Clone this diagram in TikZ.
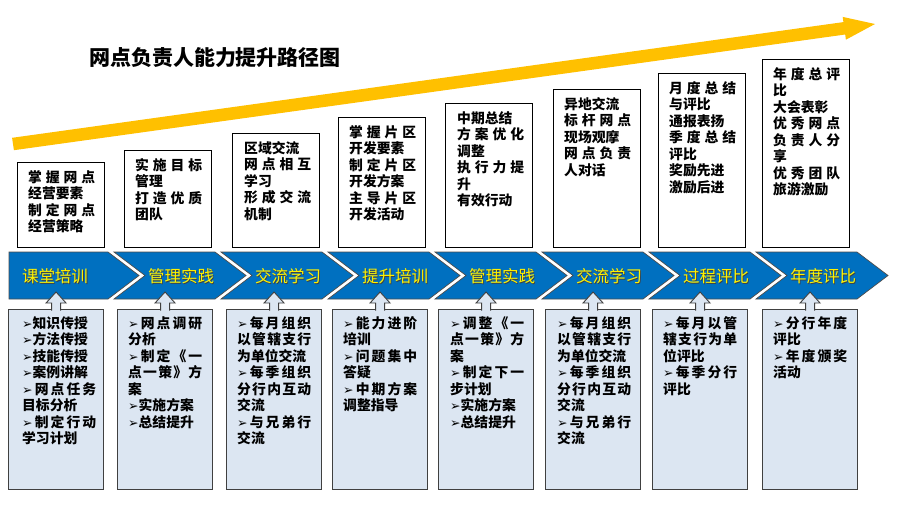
\documentclass[tikz,border=0pt]{standalone}
\usepackage{fontspec}
\setmainfont{Noto Sans CJK SC}
\newfontfamily\dvf{DejaVu Sans}
\usetikzlibrary{calc}
\definecolor{arrowyellow}{HTML}{FFC000}
\definecolor{chevblue}{HTML}{0070C0}
\definecolor{lowfill}{HTML}{DCE6F2}
\newlength\jw
\def\Jsplit#1#2{#1\ifx\relax#2\else\hfil\expandafter\Jsplit\expandafter#2\fi}
\newcommand\J[1]{\makebox[\jw][s]{\Jsplit#1\relax}}
\newcommand\B{{\dvf\bfseries\fontsize{12.5}{12.5}\selectfont ➢}}
\newcommand\boxtext[4]{%
  \foreach \t [count=\k from 0] in {#4} {\node[txt] (#1-\k) at (#2,{#3+16.5*\k}) {\t};}}
\begin{document}
\begin{tikzpicture}[x=1pt,y=-1pt,
  ubox/.style={draw=black, line width=1.1pt, fill=white, anchor=north west, minimum width=87pt, inner sep=0pt},
  lbox/.style={draw=black!75, line width=1.1pt, fill=lowfill, anchor=north west, minimum width=95pt, minimum height=180pt, inner sep=0pt},
  chev/.style={fill=chevblue, draw=black!70, line width=0.7pt},
  chevtxt/.style={font=\fontsize{16.5}{16.5}\selectfont, text=yellow, inner sep=0pt},
  chevshadow/.style={font=\fontsize{16.5}{16.5}\selectfont, text=black!75, inner sep=0pt},
  uparr/.style={fill=lowfill, draw=black!75, line width=0.9pt},
  txt/.style={font=\bfseries\fontsize{13.8}{16.5}\selectfont, anchor=west, inner sep=0pt},
  ttl/.style={font=\bfseries\fontsize{21}{21}\selectfont, inner sep=0pt}]
\useasboundingbox (0,0) rectangle (906,523);
\fill[white] (0,0) rectangle (906,523);
% rising yellow arrow
\fill[arrowyellow] (12.1,137.8) -- (843.4,22.1) -- (842.7,16.9) -- (875,24) -- (845.9,39.7) -- (845.2,34.5) -- (13.9,150.2) -- cycle;
\node[ttl] (T) at (215,57.5) {网点负责人能力提升路径图};
% upper boxes
\foreach \i/\x/\y in {1/17/162,2/124/150,3/232/133,4/338/117,5/445/103,6/553/89,7/658/73,8/762/59}
  \node[ubox, minimum height={247-\y}] (U\i) at (\x,\y) {};
\setlength\jw{67pt}
\boxtext{u1}{28}{177}{\J{掌握网点},经营要素,\J{制定网点},经营策略}
\boxtext{u2}{135}{165}{\J{实施目标},管理,\J{打造优质},团队}
\boxtext{u3}{244}{148}{区域交流,\J{网点相互},学习,\J{形成交流},机制}
\boxtext{u4}{349}{132}{\J{掌握片区},开发要素,\J{制定片区},开发方案,\J{主导片区},开发活动}
\boxtext{u5}{457}{118}{中期总结,\J{方案优化},调整,\J{执行力提},升,有效行动}
\boxtext{u6}{564}{104}{异地交流,\J{标杆网点},现场观摩,\J{网点负责},人对话}
\boxtext{u7}{669}{88}{\J{月度总结},与评比,通报表扬,\J{季度总结},评比,奖励先进,激励后进}
\boxtext{u8}{773}{74}{\J{年度总评},比,大会表彰,\J{优秀网点},\J{负责人分},享,\J{优秀团队},旅游激励}
% chevrons
\draw[chev] (9,252) -- (108,252) -- (139,275.5) -- (108,299) -- (9,299) -- cycle;
\foreach \i in {2,...,8}{
  \pgfmathsetmacro\tp{139+107*(\i-1)}
  \draw[chev] ({\tp-132},252) -- ({\tp-31},252) -- (\tp,275.5) -- ({\tp-31},299) -- ({\tp-132},299) -- ({\tp-101},275.5) -- cycle;
}
\foreach \i/\s in {1/课堂培训,2/管理实践,3/交流学习,4/提升培训,5/管理实践,6/交流学习,7/过程评比,8/年度评比}{
  \pgfmathsetmacro\cx{\i==1 ? 55 : 74+107*(\i-1)}
  \node[chevshadow] (Cs\i) at ({\cx+0.8},{276.8}) {\s};
  \node[chevtxt] (C\i) at (\cx,276) {\s};
}
% lower boxes
\foreach \i/\x in {1/8,2/117,3/226,4/332,5/438,6/545,7/652,8/762}
  \node[lbox] (L\i) at (\x,309) {};
\foreach \i in {1,...,8}
  \filldraw[uparr] ($(L\i.north)+(-4.5,1.5)$) -- ++(0,-7.5) -- ++(-5.5,0) -- ++(10,-11) -- ++(10,11) -- ++(-5.5,0) -- ++(0,7.5);
\setlength\jw{74pt}
\boxtext{l1}{22}{323}{\B 知识传授,\B 方法传授,\B 技能传授,\B 案例讲解,\J{\B 网点任务},目标分析,\J{\B 制定行动},学习计划}
\boxtext{l2}{128}{323}{\J{\B 网点调研},分析,\J{\B 制定《一},\J{点一策》方},案,\B 实施方案,\B 总结提升}
\boxtext{l3}{237}{323}{\J{\B 每月组织},\J{以管辖支行},为单位交流,\J{\B 每季组织},\J{分行内互动},交流,\J{\B 与兄弟行},交流}
\boxtext{l4}{343}{323}{\J{\B 能力进阶},培训,\J{\B 问题集中},答疑,\J{\B 中期方案},调整指导}
\boxtext{l5}{450}{323}{\J{\B 调整《一},\J{点一策》方},案,\J{\B 制定下一},步计划,\B 实施方案,\B 总结提升}
\boxtext{l6}{557}{323}{\J{\B 每月组织},\J{以管辖支行},为单位交流,\J{\B 每季组织},\J{分行内互动},交流,\J{\B 与兄弟行},交流}
\boxtext{l7}{663}{323}{\J{\B 每月以管},\J{辖支行为单},位评比,\J{\B 每季分行},评比}
\boxtext{l8}{773}{323}{\J{\B 分行年度},评比,\J{\B 年度颁奖},活动}
\end{tikzpicture}
\end{document}
